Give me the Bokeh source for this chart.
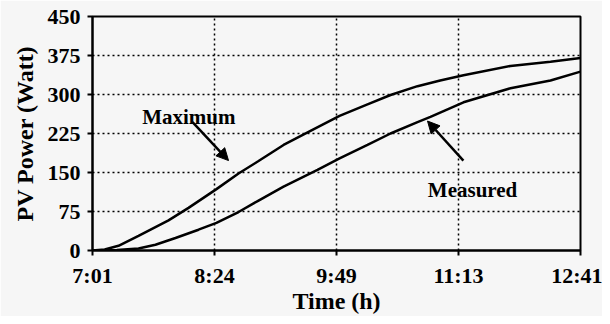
from bokeh.plotting import figure
from bokeh.models import Range1d, FixedTicker, Arrow, NormalHead
from bokeh.core.properties import value
from bokeh.embed import file_html
from bokeh.resources import INLINE

# tick labels (evenly spaced positions 0..4)
time_labels = ["7:01", "8:24", "9:49", "11:13", "12:41"]
y_ticks = [0, 75, 150, 225, 300, 375, 450]

# Maximum power curve (x in tick-interval units, y in Watt)
max_x = [0.0, 0.1, 0.213, 0.377, 0.623, 0.787, 1.016, 1.197, 1.361, 1.566, 1.787,
         2.025, 2.254, 2.443, 2.664, 2.85, 3.041, 3.426, 3.754, 4.0]
max_y = [0, 2, 9, 28, 58, 82, 118, 148, 172, 203, 230,
         259, 281, 299, 316, 327, 337, 355, 363, 370]

# Measured power curve
meas_x = [0.0, 0.2, 0.377, 0.516, 0.680, 0.869, 1.016, 1.197, 1.361, 1.566, 1.844,
          2.025, 2.254, 2.443, 2.664, 2.770, 3.041, 3.426, 3.754, 4.0]
meas_y = [0, 1, 4, 11, 24, 40, 53, 74, 96, 123, 155,
          177, 203, 225, 247, 257, 285, 312, 327, 344]

FONT = "Liberation Serif"
BG = "#f6f6f6"

p = figure(width=602, height=316, output_backend="svg", toolbar_location=None,
           x_range=Range1d(0, 4), y_range=Range1d(0, 450),
           min_border_left=92, min_border_right=22, min_border_top=16, min_border_bottom=58)
p.background_fill_color = BG
p.border_fill_color = BG
p.outline_line_color = "black"
p.outline_line_width = 2

p.line(max_x, max_y, line_color="black", line_width=2.5)
p.line(meas_x, meas_y, line_color="black", line_width=2.5)

# axes
p.xaxis.ticker = FixedTicker(ticks=[0, 1, 2, 3, 4])
p.xaxis.major_label_overrides = {i: lab for i, lab in enumerate(time_labels)}
p.yaxis.ticker = FixedTicker(ticks=y_ticks)
for ax in (p.xaxis, p.yaxis):
    ax.axis_line_color = "black"
    ax.axis_line_width = 2
    ax.major_tick_line_color = "black"
    ax.major_tick_line_width = 2
    ax.major_tick_out = 5
    ax.major_tick_in = 0
    ax.minor_tick_line_color = None
    ax.major_label_text_font = FONT
    ax.major_label_text_font_style = "bold"
    ax.major_label_text_font_size = "22px"
    ax.major_label_text_color = "black"
    ax.axis_label_text_font = FONT
    ax.axis_label_text_font_style = "bold"
    ax.axis_label_text_font_size = "24px"
    ax.axis_label_text_color = "black"
p.xaxis.axis_label = "Time (h)"
p.yaxis.axis_label = "PV Power (Watt)"
p.xaxis.major_label_standoff = 7
p.yaxis.major_label_standoff = 7
p.xaxis.axis_label_standoff = -3
p.yaxis.axis_label_standoff = 7

# grid
p.xgrid.ticker = FixedTicker(ticks=[1, 2, 3])
p.ygrid.ticker = FixedTicker(ticks=[75, 150, 225, 300, 375])
for g in (p.xgrid, p.ygrid):
    g.grid_line_color = "black"
    g.grid_line_width = 1.5
    g.grid_line_dash = "2 3"

# annotations
p.text(x=[0.79], y=[257], text=["Maximum"], text_font=value(FONT), text_font_style="bold",
       text_font_size="21px", text_align="center", text_baseline="alphabetic", text_color="black")
p.text(x=[3.115], y=[117], text=["Measured"], text_font=value(FONT), text_font_style="bold",
       text_font_size="21px", text_align="center", text_baseline="alphabetic", text_color="black")
p.add_layout(Arrow(x_start=0.82, y_start=247, x_end=1.115, y_end=173, line_width=2.5,
                   line_color="black",
                   end=NormalHead(size=12, fill_color="black", line_color="black")))
p.add_layout(Arrow(x_start=3.04, y_start=173, x_end=2.746, y_end=249, line_width=2.5,
                   line_color="black",
                   end=NormalHead(size=12, fill_color="black", line_color="black")))

open("out.html", "w").write(file_html(p, INLINE))
